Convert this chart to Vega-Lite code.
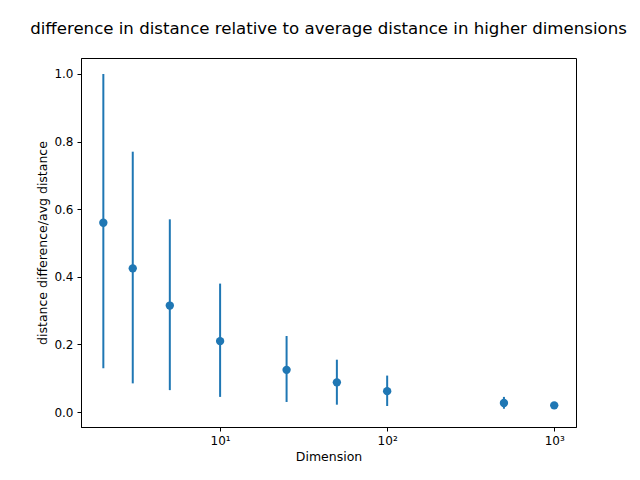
{
  "$schema": "https://vega.github.io/schema/vega-lite/v6.json",
  "width": 495,
  "height": 369,
  "autosize": "none",
  "padding": {"left": 81, "top": 58, "right": 64, "bottom": 53},
  "title": {"text": "difference in distance relative to average distance in higher dimensions", "fontSize": 16.6, "fontWeight": "normal", "font": "DejaVu Sans", "offset": 20},
  "data": {
    "values": [
      {"dim": 2, "mean": 0.56, "lo": 0.13, "hi": 1.0},
      {"dim": 3, "mean": 0.425, "lo": 0.085, "hi": 0.77},
      {"dim": 5, "mean": 0.315, "lo": 0.065, "hi": 0.57},
      {"dim": 10, "mean": 0.21, "lo": 0.045, "hi": 0.38},
      {"dim": 25, "mean": 0.125, "lo": 0.03, "hi": 0.225},
      {"dim": 50, "mean": 0.088, "lo": 0.022, "hi": 0.155},
      {"dim": 100, "mean": 0.062, "lo": 0.018, "hi": 0.108},
      {"dim": 500, "mean": 0.027, "lo": 0.01, "hi": 0.045},
      {"dim": 1000, "mean": 0.02, "lo": 0.012, "hi": 0.03}
    ]
  },
  "encoding": {
    "x": {
      "field": "dim", "type": "quantitative",
      "scale": {"type": "log", "domain": [1.47, 1350], "nice": false},
      "axis": {"title": "Dimension", "values": [10, 100, 1000], "grid": false,
        "labelExpr": "datum.value == 10 ? '10¹' : datum.value == 100 ? '10²' : '10³'"}
    }
  },
  "layer": [
    {
      "mark": {"type": "rule", "color": "#1f77b4", "strokeWidth": 2},
      "encoding": {
        "y": {"field": "lo", "type": "quantitative"},
        "y2": {"field": "hi"}
      }
    },
    {
      "mark": {"type": "circle", "color": "#1f77b4", "opacity": 1, "size": 70},
      "encoding": {
        "y": {
          "field": "mean", "type": "quantitative",
          "scale": {"domain": [-0.044, 1.047], "nice": false, "zero": false},
          "axis": {"title": "distance difference/avg distance", "values": [0, 0.2, 0.4, 0.6, 0.8, 1.0], "format": ".1f", "grid": false}
        }
      }
    }
  ],
  "config": {
    "font": "DejaVu Sans",
    "view": {"stroke": "black", "strokeWidth": 1},
    "axis": {"domainColor": "black", "tickColor": "black", "labelColor": "black", "titleColor": "black",
      "labelFontSize": 12, "titleFontSize": 12.5, "titleFontWeight": "normal", "labelFont": "DejaVu Sans", "titleFont": "DejaVu Sans", "tickSize": 4, "labelPadding": 4}
  }
}
